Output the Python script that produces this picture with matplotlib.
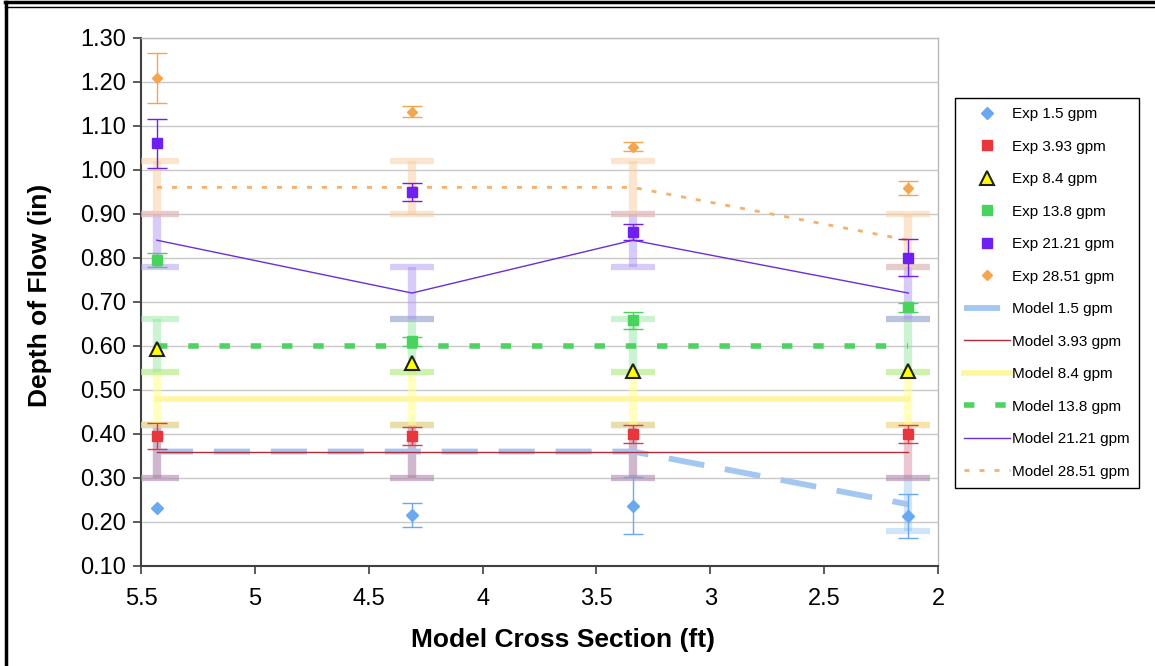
import matplotlib.pyplot as plt
import numpy as np
from matplotlib.lines import Line2D
from matplotlib.ticker import FuncFormatter, MultipleLocator

plt.rcParams['font.family'] = ['Liberation Sans', 'DejaVu Sans']
plt.rcParams['lines.scale_dashes'] = False

# cross-section stations along the model (ft)
stations = [5.43, 4.31, 3.34, 2.13]

# measured depth of flow (in) and half-range of the readings
exp_1_5 = [0.232, 0.215, 0.237, 0.214]
exp_1_5_err = [np.nan, 0.027, 0.065, 0.050]
exp_3_93 = [0.395, 0.395, 0.400, 0.400]
exp_3_93_err = [0.030, 0.020, 0.020, 0.020]
exp_8_4 = [0.592, 0.560, 0.542, 0.543]
exp_8_4_err = [np.nan, np.nan, np.nan, np.nan]
exp_13_8 = [0.795, 0.610, 0.658, 0.688]
exp_13_8_err = [0.015, 0.010, 0.020, 0.010]
exp_21_21 = [1.060, 0.950, 0.859, 0.800]
exp_21_21_err = [0.055, 0.020, 0.018, 0.042]
exp_28_51 = [1.208, 1.132, 1.052, 0.959]
exp_28_51_err = [0.057, 0.012, 0.010, 0.016]

# model predictions (in), each with a +/- 0.06 in band
model_1_5 = [0.36, 0.36, 0.36, 0.24]
model_3_93 = [0.36, 0.36, 0.36, 0.36]
model_8_4 = [0.48, 0.48, 0.48, 0.48]
model_13_8 = [0.60, 0.60, 0.60, 0.60]
model_21_21 = [0.84, 0.72, 0.84, 0.72]
model_28_51 = [0.96, 0.96, 0.96, 0.84]
model_err = 0.06

flows = ['1.5', '3.93', '8.4', '13.8', '21.21', '28.51']

exp_series = [
    (exp_1_5, exp_1_5_err, dict(marker='D', ms=6.5, color='#6aa8f0', mec='#6aa8f0')),
    (exp_3_93, exp_3_93_err, dict(marker='s', ms=7, color='#e8363c', mec='#e8363c')),
    (exp_8_4, exp_8_4_err, dict(marker='^', ms=10, color='#ffff00', mec='#202020', mew=1.5)),
    (exp_13_8, exp_13_8_err, dict(marker='s', ms=7, color='#48d45c', mec='#48d45c')),
    (exp_21_21, exp_21_21_err, dict(marker='s', ms=7, color='#6f1ff2', mec='#6f1ff2')),
    (exp_28_51, exp_28_51_err, dict(marker='D', ms=5, color='#f5a54f', mec='#f5a54f')),
]

model_series = [
    (model_1_5, dict(color='#a3c7f0', lw=4.2, dashes=(26, 15), dash_capstyle='butt'),
     (0.55, 0.75, 0.95, 0.40)),
    (model_3_93, dict(color='#b52a3c', lw=1.0), (0.80, 0.45, 0.55, 0.40)),
    (model_8_4, dict(color='#fff6a0', lw=4), (1.00, 1.00, 0.55, 0.55)),
    (model_13_8, dict(color='#50d262', lw=4, dashes=(7.5, 15), dash_capstyle='butt'),
     (0.55, 0.90, 0.60, 0.45)),
    (model_21_21, dict(color='#6a2fd6', lw=1.0), (0.65, 0.55, 0.95, 0.45)),
    (model_28_51, dict(color='#f5b070', lw=2, dashes=(3.6, 7.2), dash_capstyle='butt'),
     (0.98, 0.80, 0.62, 0.50)),
]

fig = plt.figure(figsize=(11.55, 6.66), dpi=100)
ax = fig.add_axes([141 / 1155, 1 - 566 / 666, (938 - 141) / 1155, (566 - 37.7) / 666])

# model bands and lines
for vals, style, band in model_series:
    ax.errorbar(stations, vals, yerr=model_err, fmt='none', ecolor=band,
                elinewidth=6, capsize=16, capthick=4.5, zorder=3)
for vals, style, band in model_series:
    ax.plot(stations, vals, zorder=4, **style)

# measurements with their spread
for vals, err, style in exp_series:
    ax.errorbar(stations, vals, yerr=err, fmt='none', ecolor=style['color'],
                elinewidth=1, capsize=7, capthick=1, zorder=5)
    ax.plot(stations, vals, ls='none', zorder=6, **style)

ax.set_xlim(5.5, 2)
ax.set_ylim(0.10, 1.30)
ax.xaxis.set_major_locator(MultipleLocator(0.5))
ax.yaxis.set_major_locator(MultipleLocator(0.1))
ax.xaxis.set_major_formatter(FuncFormatter(lambda v, p: '%g' % v))
ax.yaxis.set_major_formatter(FuncFormatter(lambda v, p: '%.2f' % v))
ax.grid(axis='y', color='#c8c8c8', lw=1)
ax.set_axisbelow(True)
ax.tick_params(labelsize=17, direction='out', length=6, width=1.2, color='#404040')
ax.tick_params(axis='x', pad=10)
ax.tick_params(axis='y', pad=5)
for side in ('left', 'bottom'):
    ax.spines[side].set_color('#404040')
    ax.spines[side].set_linewidth(1.5)
for side in ('top', 'right'):
    ax.spines[side].set_color('#bbbbbb')
    ax.spines[side].set_linewidth(1)

ax.set_xlabel('Model Cross Section (ft)', fontsize=19, fontweight='bold')
ax.set_ylabel('Depth of Flow (in)', fontsize=19, fontweight='bold')
ax.xaxis.set_label_coords(0.529, -0.117)
ax.yaxis.set_label_coords(-0.112, 0.513)

# legend: markers for measured series, line styles for the model
handles = []
labels = []
for flow, (vals, err, style) in zip(flows, exp_series):
    handles.append(Line2D([], [], ls='none', **style))
    labels.append('Exp %s gpm' % flow)
for flow, (vals, style, band) in zip(flows, model_series):
    handles.append(Line2D([], [], **style))
    labels.append('Model %s gpm' % flow)
fig.legend(handles, labels, loc='upper left', bbox_to_anchor=(955 / 1155, 1 - 98 / 666),
           fontsize=11, frameon=True, fancybox=False, edgecolor='black',
           framealpha=1, labelspacing=1.21, handlelength=3.0, handletextpad=0.15,
           borderpad=0.6, borderaxespad=0)

# page frame
fig.add_artist(Line2D([5 / 1155, 1], [1 - 2 / 666, 1 - 2 / 666], color='black', lw=2.5))
fig.add_artist(Line2D([5 / 1155, 1], [1 - 7 / 666, 1 - 7 / 666], color='black', lw=1))
fig.add_artist(Line2D([6 / 1155, 6 / 1155], [0, 1 - 2 / 666], color='black', lw=2.5))

fig.savefig('out.png', dpi=100)
